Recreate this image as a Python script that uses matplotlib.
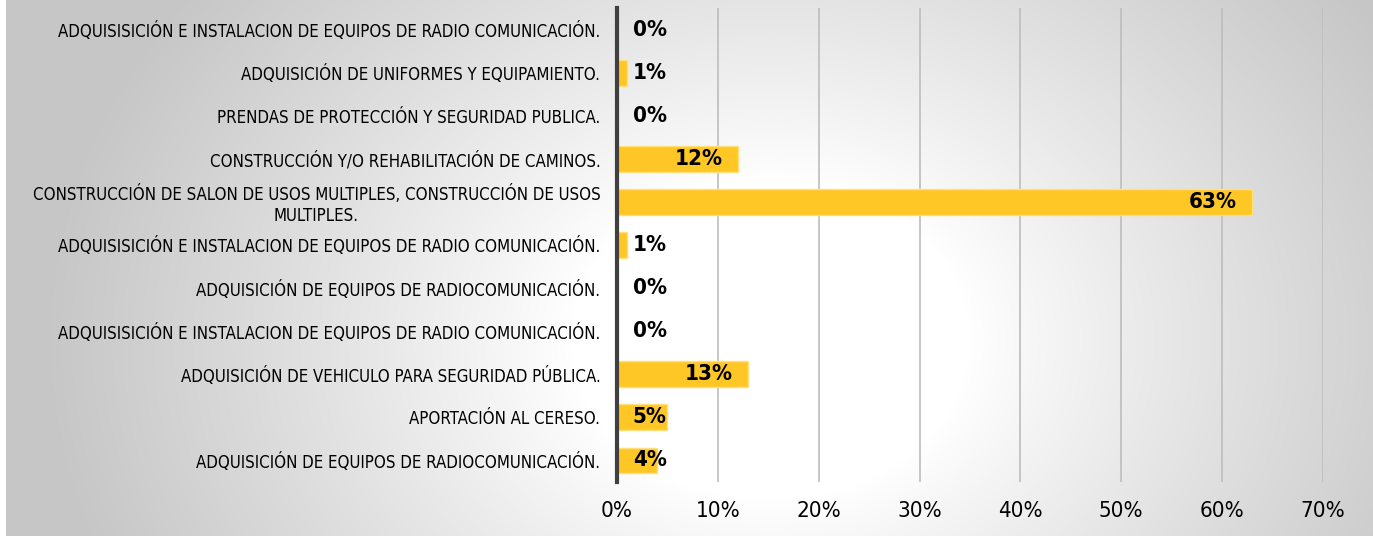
import numpy as np
import matplotlib
matplotlib.use("Agg")
import matplotlib.pyplot as plt
from matplotlib import font_manager
from matplotlib.ticker import PercentFormatter

categories = [
    "ADQUISISICIÓN E INSTALACION DE EQUIPOS DE RADIO COMUNICACIÓN.",
    "ADQUISICIÓN DE UNIFORMES Y EQUIPAMIENTO.",
    "PRENDAS DE PROTECCIÓN Y SEGURIDAD PUBLICA.",
    "CONSTRUCCIÓN Y/O REHABILITACIÓN DE CAMINOS.",
    "CONSTRUCCIÓN DE SALON DE USOS MULTIPLES, CONSTRUCCIÓN DE USOS\nMULTIPLES.",
    "ADQUISISICIÓN E INSTALACION DE EQUIPOS DE RADIO COMUNICACIÓN.",
    "ADQUISICIÓN DE EQUIPOS DE RADIOCOMUNICACIÓN.",
    "ADQUISISICIÓN E INSTALACION DE EQUIPOS DE RADIO COMUNICACIÓN.",
    "ADQUISICIÓN DE VEHICULO PARA SEGURIDAD PÚBLICA.",
    "APORTACIÓN AL CERESO.",
    "ADQUISICIÓN DE EQUIPOS DE RADIOCOMUNICACIÓN.",
]
values = [0, 1, 0, 12, 63, 1, 0, 0, 13, 5, 4]
value_labels = ["0%", "1%", "0%", "12%", "63%", "1%", "0%", "0%", "13%", "5%", "4%"]
xticks = [0, 10, 20, 30, 40, 50, 60, 70]

# find a condensed/narrow font file if any
reg_file, bold_file = None, None
for f in font_manager.fontManager.ttflist:
    fn = f.fname.lower()
    if ("narrow" in fn or "condensed" in fn) and "oblique" not in fn and "italic" not in fn:
        if "bold" in fn and "semi" not in fn and "extra" not in fn:
            bold_file = bold_file or f.fname
        elif "bold" not in fn and "light" not in fn and "thin" not in fn and "medium" not in fn \
                and "black" not in fn:
            reg_file = reg_file or f.fname
if reg_file:
    FP_REG = lambda size: font_manager.FontProperties(fname=reg_file, size=size)
    SCALE = 1.0
else:
    FP_REG = lambda size: font_manager.FontProperties(family="Liberation Sans", size=size)
    SCALE = 0.84
if bold_file:
    FP_BOLD = lambda size: font_manager.FontProperties(fname=bold_file, size=size)
    BSCALE = 1.0
else:
    FP_BOLD = lambda size: font_manager.FontProperties(family="Liberation Sans", weight="bold", size=size)
    BSCALE = 0.86

W, H = 1373, 536
fig = plt.figure(figsize=(W / 100, H / 100), dpi=100)
fig.patch.set_facecolor("white")

# background radial gradient
bx0 = 6
bg = fig.add_axes([bx0 / W, 0, 1 - bx0 / W, 1])
yy, xx = np.mgrid[0:H, bx0:W]
d = np.sqrt(((xx - 770) / 1.0) ** 2 + ((yy - 340) / 0.8) ** 2)
g = 1 - 0.22 * np.clip((d - 200) / 520, 0, 1) ** 0.9
bg.imshow(np.dstack([g, g, g]), aspect="auto", extent=[0, 1, 0, 1], origin="upper")
bg.axis("off")

ax = fig.add_axes([617 / W, 1 - 482 / H, (1323 - 617) / W, (482 - 8) / H])
ax.set_facecolor("none")
ypos = np.arange(len(categories))
ax.barh(ypos, values, height=0.6, color="#FFC726", edgecolor="#FFE07A",
        linewidth=1, zorder=3)
ax.set_ylim(len(categories) - 0.5, -0.5)
ax.set_xlim(0, 70)
ax.set_xticks(xticks)
ax.xaxis.set_major_formatter(PercentFormatter(decimals=0))
ax.set_yticks(ypos)
ax.set_yticklabels(categories, multialignment="center")
for lab in ax.get_yticklabels():
    lab.set_fontproperties(FP_REG(12.1 * SCALE))
ax.tick_params(axis="y", length=0, pad=12)
ax.tick_params(axis="x", length=0, pad=14)
for lab in ax.get_xticklabels():
    lab.set_fontproperties(FP_REG(16 * SCALE))
ax.grid(axis="x", color="#bdbdbd", linewidth=1.2, zorder=0)
for s in ["top", "right", "bottom"]:
    ax.spines[s].set_visible(False)
ax.spines["left"].set_color("#404040")
ax.spines["left"].set_linewidth(3)
ax.spines["left"].set_zorder(4)

for y, v, s in zip(ypos, values, value_labels):
    fp = FP_BOLD(16 * BSCALE)
    if v >= 10:
        ax.annotate(s, (v, y), xytext=(-11, 0), textcoords="offset points",
                    ha="right", va="center", fontproperties=fp, color="black", zorder=5)
    else:
        ax.annotate(s, (0, y), xytext=(11.25, 0), textcoords="offset points",
                    ha="left", va="center", fontproperties=fp, color="black", zorder=5)

fig.savefig("out.png", dpi=100)
